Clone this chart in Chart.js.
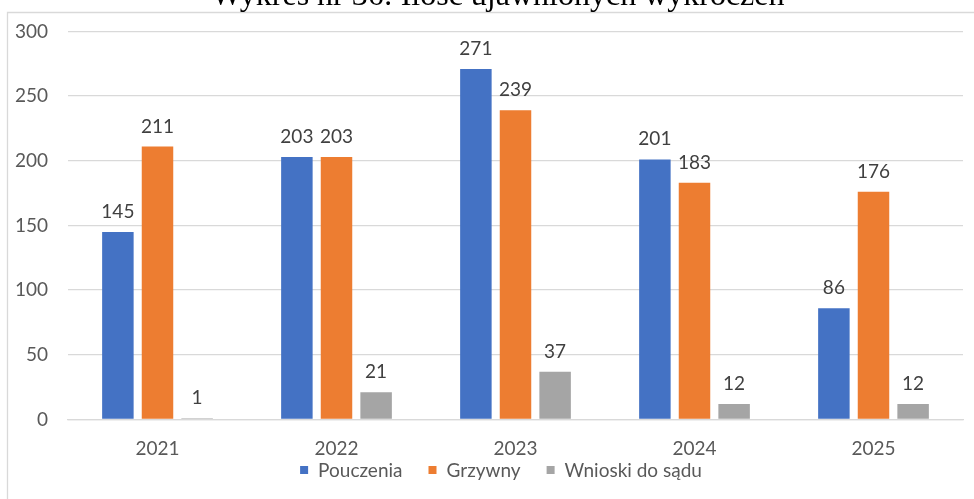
<!DOCTYPE html>
<html lang="pl">
<head>
<meta charset="utf-8">
<title>Wykres nr 36: Ilość ujawnionych wykroczeń</title>
<script src="https://cdn.jsdelivr.net/npm/chart.js@4/dist/chart.umd.min.js"></script>
<style>
  html, body { margin: 0; padding: 0; background: #ffffff; }
  #wrap { position: relative; width: 974px; height: 499px; overflow: hidden; }
  canvas { display: block; }
</style>
</head>
<body>
<div id="wrap"><canvas id="chart" width="974" height="499"></canvas></div>
<script>
// Lata ujęte w zestawieniu
const years = ['2021', '2022', '2023', '2024', '2025'];
// Liczba wykroczeń według sposobu zakończenia
const pouczenia = [145, 203, 271, 201, 86];
const grzywny = [211, 203, 239, 183, 176];
const wnioskiDoSadu = [1, 21, 37, 12, 12];
// Podziałka osi wartości
const yTicks = [0, 50, 100, 150, 200, 250, 300];

const chartTitle = 'Wykres nr 36: Ilość ujawnionych wykroczeń';
const seriesNames = ['Pouczenia', 'Grzywny', 'Wnioski do sądu'];
const seriesColors = ['#4472C4', '#ED7D31', '#A5A5A5'];

const FONT = 'Lato, "Liberation Sans", sans-serif';

// Ramka obszaru wykresu i tytuł nad nią
const framePlugin = {
  id: 'frame',
  beforeDraw(chart) {
    const ctx = chart.ctx;
    ctx.save();
    ctx.fillStyle = '#ffffff';
    ctx.fillRect(0, 0, chart.width, chart.height);
    ctx.strokeStyle = '#d9d9d9';
    ctx.lineWidth = 1.3;
    ctx.beginPath();
    ctx.moveTo(7.5, chart.height);
    ctx.lineTo(7.5, 12.5);
    ctx.lineTo(chart.width, 12.5);
    ctx.stroke();
    ctx.fillStyle = '#000000';
    ctx.font = '32px "Liberation Serif", "Times New Roman", serif';
    ctx.textAlign = 'center';
    ctx.textBaseline = 'alphabetic';
    ctx.fillText(chartTitle, 498, 5);
    ctx.restore();
  }
};

// Etykiety wartości nad słupkami
const valueLabels = {
  id: 'valueLabels',
  afterDatasetsDraw(chart) {
    const ctx = chart.ctx;
    ctx.save();
    ctx.font = '19px ' + FONT;
    ctx.fillStyle = '#404040';
    ctx.textAlign = 'center';
    ctx.textBaseline = 'alphabetic';
    chart.data.datasets.forEach((ds, i) => {
      chart.getDatasetMeta(i).data.forEach((bar, j) => {
        ctx.fillText(String(ds.data[j]), bar.x, bar.y - 14);
      });
    });
    ctx.restore();
  }
};

// Legenda pod osią kategorii
const bottomLegend = {
  id: 'bottomLegend',
  afterDraw(chart) {
    const ctx = chart.ctx;
    ctx.save();
    ctx.font = '19px ' + FONT;
    ctx.textBaseline = 'middle';
    ctx.textAlign = 'left';
    const box = 8, gapBox = 10, gapItem = 26, y = 470, centerX = 501;
    const items = chart.data.datasets.map(ds => ({
      text: ds.label, color: ds.backgroundColor, w: ctx.measureText(ds.label).width
    }));
    const total = items.reduce((s, it) => s + box + gapBox + it.w, 0) + gapItem * (items.length - 1);
    let x = centerX - total / 2;
    items.forEach(it => {
      ctx.fillStyle = it.color;
      ctx.fillRect(x, y - box / 2, box, box);
      x += box + gapBox;
      ctx.fillStyle = '#595959';
      ctx.fillText(it.text, x, y + 1);
      x += it.w + gapItem;
    });
    ctx.restore();
  }
};

new Chart(document.getElementById('chart'), {
  type: 'bar',
  data: {
    labels: years,
    datasets: [
      { label: seriesNames[0], data: pouczenia, backgroundColor: seriesColors[0] },
      { label: seriesNames[1], data: grzywny, backgroundColor: seriesColors[1] },
      { label: seriesNames[2], data: wnioskiDoSadu, backgroundColor: seriesColors[2] }
    ]
  },
  options: {
    responsive: false,
    animation: false,
    events: [],
    datasets: {
      bar: { categoryPercentage: 0.664, barPercentage: 0.795 }
    },
    layout: { padding: { top: 30.5, right: 11, bottom: 39.5, left: 0 } },
    plugins: {
      legend: { display: false },
      title: { display: false },
      tooltip: { enabled: false }
    },
    scales: {
      x: {
        grid: { display: false, drawTicks: false },
        border: { display: true, color: '#d9d9d9', width: 1.3 },
        ticks: { color: '#595959', font: { family: FONT, size: 19 }, padding: 18 },
        afterFit(scale) { scale.height = 40; }
      },
      y: {
        min: 0,
        max: 300,
        afterBuildTicks(scale) { scale.ticks = yTicks.map(v => ({ value: v })); },
        grid: { color: '#d9d9d9', lineWidth: 1.3, drawTicks: false },
        border: { display: false },
        ticks: { color: '#595959', font: { family: FONT, size: 19 }, padding: 20 },
        afterFit(scale) { scale.width = 68; }
      }
    }
  },
  plugins: [framePlugin, valueLabels, bottomLegend]
});
</script>
</body>
</html>
